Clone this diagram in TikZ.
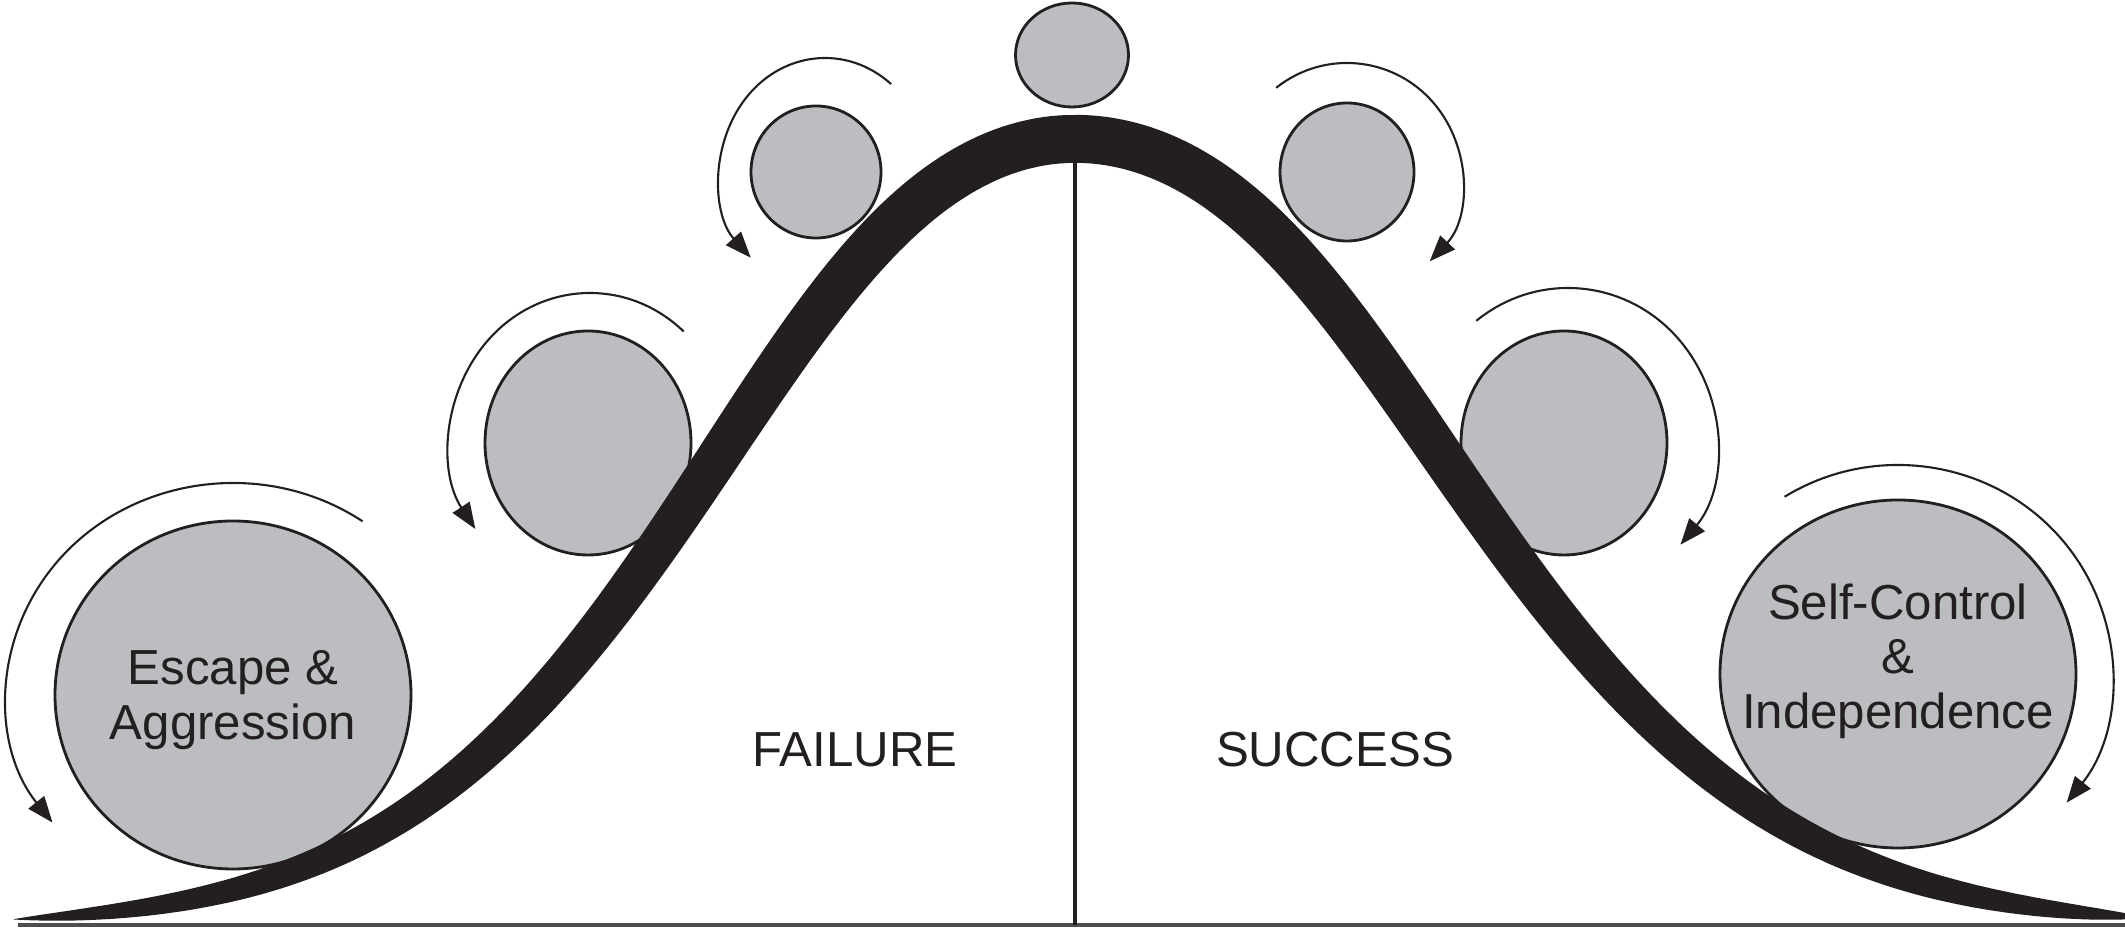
\documentclass[tikz,border=0pt]{standalone}
\usepackage{fontspec}
\setmainfont{Liberation Sans}
\usetikzlibrary{arrows.meta,shapes.geometric}
\definecolor{ink}{HTML}{231F20}
\definecolor{ballgray}{HTML}{BCBDC1}
\begin{document}
\begin{tikzpicture}[x=0.1mm,y=0.1mm,
  declare function={
    qb(\a) = (\a-1075)/200;
    sg(\a) = ((\a<1075) ? 338 : 350) + 60*exp(-0.5*qb(\a)*qb(\a));
    ql(\a) = (\a-1075)/sg(\a);
    hh(\a) = 4 + 786*exp(-0.5*ql(\a)*ql(\a));
    qw(\a) = (\a-1075)/((\a<1075) ? 715 : 760);
    ww(\a) = 48*exp(-0.5*qw(\a)*qw(\a));
    tp(\a) = (1-exp(-(\a-12)/70))*(1-exp(-(2150-\a)/60));
    sl(\a) = (hh(\a+1)-hh(\a-1))/2;
    nn(\a) = sqrt(1+sl(\a)*sl(\a));
    ht(\a) = ww(\a)*tp(\a)/(2*nn(\a));
  },
  ball/.style={ellipse, draw=ink, fill=ballgray, line width=0.8pt, inner sep=0pt, outer sep=0pt},
  roll/.style={draw=ink, line width=0.6pt, -{Triangle[length=2.6mm,width=2mm]}},
  lbl/.style={font=\fontsize{14pt}{15.5pt}\selectfont, text=ink, align=center, inner sep=0pt},
  band/.style={fill=ink},
  axisline/.style={draw=ink, line width=0.9pt},
  baseline/.style={draw=ink!80, line width=1.1pt}]
\useasboundingbox (0,0) rectangle (2125,929);

% balls
\node[ball, minimum width=35.6mm, minimum height=34.8mm] (escball) at (233,234) {};
\node[ball, minimum width=20.6mm, minimum height=22.4mm] (lmid) at (588,486) {};
\node[ball, minimum width=13.0mm, minimum height=13.2mm] (lsmall) at (816,757) {};
\node[ball, minimum width=11.3mm, minimum height=10.4mm] (top) at (1072,874) {};
\node[ball, minimum width=13.4mm, minimum height=13.8mm] (rsmall) at (1347,757) {};
\node[ball, minimum width=20.6mm, minimum height=22.4mm] (rmid) at (1564,486) {};
\node[ball, minimum width=35.6mm, minimum height=34.8mm] (selfball) at (1898,255) {};

% arc centres
\coordinate (cesc) at (233,234);
\coordinate (clmid) at (590,486);
\coordinate (clsmall) at (825,754);
\coordinate (crsmall) at (1347,749);
\coordinate (crmid) at (1568,486);
\coordinate (cself) at (1898,255);

% rolling arrows
\draw[roll] (cesc) ++(55:226 and 212) arc[start angle=55, end angle=217, x radius=226, y radius=212];
\draw[roll] (clmid) ++(48:140 and 150) arc[start angle=48, end angle=215, x radius=140, y radius=150];
\draw[roll] (clsmall) ++(51:105 and 117) arc[start angle=51, end angle=225, x radius=105, y radius=117];
\draw[roll] (crsmall) ++(128:115 and 117) arc[start angle=128, end angle=-44, x radius=115, y radius=117];
\draw[roll] (crmid) ++(128:149 and 155) arc[start angle=128, end angle=-41, x radius=149, y radius=155];
\draw[roll] (cself) ++(122:214 and 209) arc[start angle=122, end angle=-38, x radius=214, y radius=209];

% axis
\coordinate (bl) at (18,4);
\coordinate (br) at (2125,4);
\coordinate (foot) at (1075,4);
\coordinate (peak) at (1075,770);
\draw[baseline] (bl) -- (br);
\draw[axisline] (foot) -- (peak);

% bell band
\begin{scope}
\clip (0,3) rectangle (2125,929);
\fill[band] plot[domain=14:2125, samples=300, variable=\t] ({\t - sl(\t)*ht(\t)}, {hh(\t) + ht(\t)})
  -- plot[domain=2125:14, samples=300, variable=\t] ({\t + sl(\t)*ht(\t)}, {hh(\t) - ht(\t)}) -- cycle;
\end{scope}

% labels
\node[lbl] (esc) at (233,229) {Escape \&\\Aggression};
\node[lbl] (selfctl) at (1898,268) {Self-Control\\\&\\Independence};
\node[lbl, anchor=base] (fail) at (855,162) {FAILURE};
\node[lbl, anchor=base] (succ) at (1335,162) {SUCCESS};
\end{tikzpicture}
\end{document}
